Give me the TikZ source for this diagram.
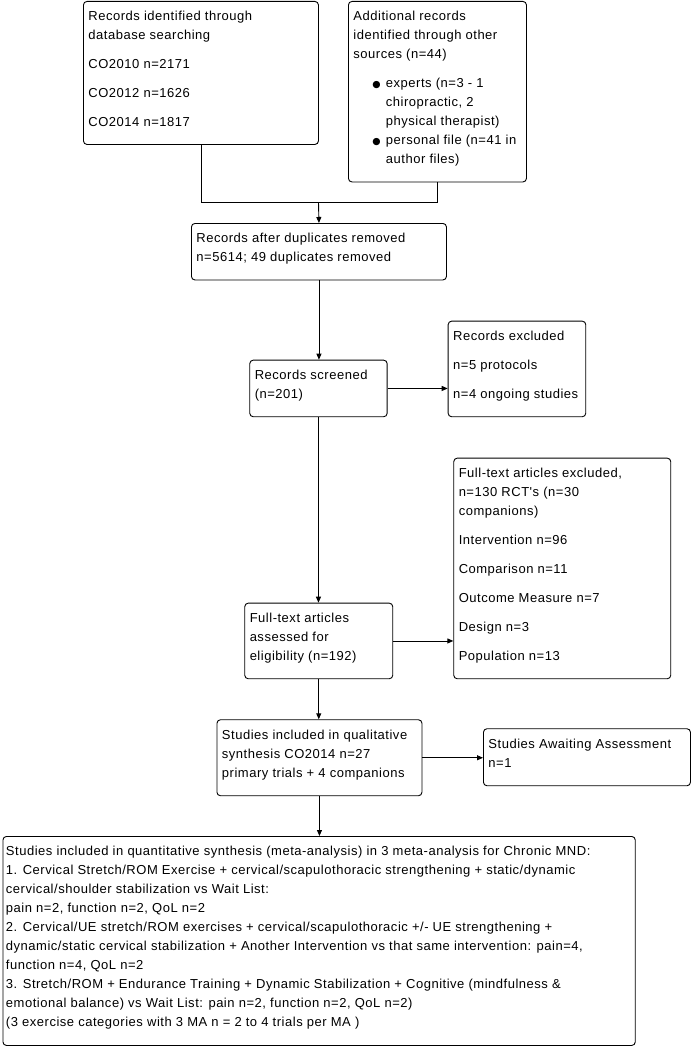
\documentclass[tikz,border=0pt]{standalone}
\usepackage{fontspec}
\newfontfamily\lsans{Liberation Sans}[LetterSpace=4]
\newfontfamily\bulfont{DejaVu Sans}
\usetikzlibrary{arrows.meta}
\newcommand{\bxt}[3]{\parbox[c][#2][t]{#1}{\raggedright\rule{0pt}{19.3pt}#3}}
\newcommand{\bul}{\hspace*{19pt}\makebox[13.5pt][l]{\raisebox{0.3pt}{\bulfont\fontsize{9.5}{19}\selectfont ●}}}
\newcommand{\ind}{\hspace*{32.5pt}}
\tikzset{
  box/.style={draw, line width=0.9pt, rounded corners=3.5pt, inner xsep=5pt, inner ysep=0pt,
    anchor=north west, font=\lsans\fontsize{13}{19}\selectfont},
  ln/.style={line width=0.9pt},
  arr/.style={line width=0.9pt, -{Triangle[length=6pt,width=5pt]}}
}
\begin{document}
\begin{tikzpicture}[x=1pt,y=-1pt]
\useasboundingbox (0,0) rectangle (691,1046);
\node[box] (b1) at (83,1) {\bxt{225pt}{143pt}{Records identified through\\database searching\\[10pt]CO2010 n=2171\\[10pt]CO2012 n=1626\\[10pt]CO2014 n=1817}};
\node[box] (b2) at (348,1) {\bxt{168pt}{180.5pt}{Additional records\\identified through other\\sources (n=44)\\[10pt]\bul experts (n=3 - 1\\\ind chiropractic, 2\\\ind physical therapist)\\\bul personal file (n=41 in\\\ind author files)}};
\node[box] (b3) at (191,223) {\bxt{245pt}{56.5pt}{Records after duplicates removed\\n=5614; 49 duplicates removed}};
\node[box] (b4) at (249.3,359.7) {\bxt{127.4pt}{56.6pt}{Records screened\\(n=201)}};
\node[box] (b5) at (447.7,320.7) {\bxt{127.6pt}{95.6pt}{Records excluded\\[10pt]n=5 protocols\\[10pt]n=4 ongoing studies}};
\node[box] (b6) at (244.3,602.7) {\bxt{138pt}{75.6pt}{Full-text articles\\assessed for\\eligibility (n=192)}};
\node[box] (b7) at (453.3,457.7) {\bxt{207pt}{220.6pt}{Full-text articles excluded,\\n=130 RCT's (n=30\\companions)\\[10pt]Intervention n=96\\[10pt]Comparison n=11\\[10pt]Outcome Measure n=7\\[10pt]Design n=3\\[10pt]Population n=13}};
\node[box] (b8) at (216.5,719.3) {\bxt{195pt}{76pt}{Studies included in qualitative\\synthesis CO2014 n=27\\primary trials + 4 companions}};
\node[box] (b9) at (483,728.3) {\bxt{197pt}{57pt}{Studies Awaiting Assessment\\n=1}};
\node[box,inner xsep=3pt] (b10) at (2.5,836) {\bxt{626.3pt}{209pt}{Studies included in quantitative synthesis (meta-analysis) in 3 meta-analysis for Chronic MND:\\1. Cervical Stretch/ROM Exercise + cervical/scapulothoracic strengthening + static/dynamic\\cervical/shoulder stabilization vs Wait List:\\pain n=2, function n=2, QoL n=2\\2. Cervical/UE stretch/ROM exercises + cervical/scapulothoracic +/- UE strengthening +\\dynamic/static cervical stabilization + Another Intervention vs that same intervention: pain=4,\\function n=4, QoL n=2\\3. Stretch/ROM + Endurance Training + Dynamic Stabilization + Cognitive (mindfulness \&\\emotional balance) vs Wait List: pain n=2, function n=2, QoL n=2)\\(3 exercise categories with 3 MA n = 2 to 4 trials per MA )}};
\coordinate (jn) at (318.5,202.3);
\draw[ln] (b1.south) |- (jn) -| (b2.south);
\draw[arr] (jn) -- (b3.north);
\draw[arr] (b3.south) -- (b3.south |- b4.north);
\draw[arr] (b4.east) -- (b4.east -| b5.west);
\draw[arr] (b4.south) -- (b4.south |- b6.north);
\draw[arr] (b6.east) -- (b6.east -| b7.west);
\draw[arr] (b6.south) -- (b6.south |- b8.north);
\draw[arr] (b8.east) -- (b8.east -| b9.west);
\draw[arr] (b8.south) -- (b8.south |- b10.north);
\end{tikzpicture}
\end{document}
